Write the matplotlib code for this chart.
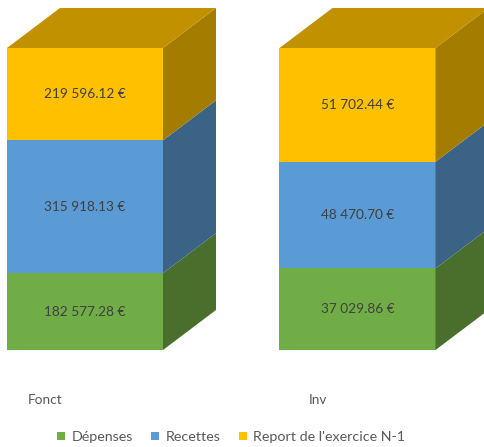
import numpy as np
import matplotlib.pyplot as plt
from matplotlib.patches import Polygon, Patch

plt.rcParams['font.family'] = ['Lato', 'DejaVu Sans']

categories = ['Fonct', 'Inv']
series = ['Dépenses', 'Recettes', "Report de l'exercice N-1"]
depenses = [182577.28, 37029.86]
recettes = [315918.13, 48470.70]
report = [219596.12, 51702.44]
labels = [['182 577.28 €', '37 029.86 €'],
          ['315 918.13 €', '48 470.70 €'],
          ['219 596.12 €', '51 702.44 €']]

front = ['#70AD47', '#5B9BD5', '#FFC000']
side = ['#4A6E2B', '#3A6386', '#A37C00']
top = ['#5A8A38', '#4A7DAB', '#C29100']

values = np.array([depenses, recettes, report])
pct = values / values.sum(axis=0) * 100

fig = plt.figure(figsize=(4.84, 4.47), dpi=100)
ax = fig.add_axes([0, 0, 1, 1])
ax.set_xlim(-0.3119, 1.4642)
ax.set_ylim(-32.12, 115.89)
ax.axis('off')

w = 0.5725          # bar width
dx, dy = 0.1945, 13.25  # depth offset

for i, cat in enumerate(categories):
    x0 = i - w / 2
    x1 = i + w / 2
    bottom = 0
    for s in range(len(series)):
        h = pct[s, i]
        y0, y1 = bottom, bottom + h
        ax.add_patch(Polygon([(x0, y0), (x1, y0), (x1, y1), (x0, y1)],
                             closed=True, fc=front[s], lw=0))
        ax.add_patch(Polygon([(x1, y0), (x1 + dx, y0 + dy), (x1 + dx, y1 + dy), (x1, y1)],
                             closed=True, fc=side[s], lw=0))
        if s == len(series) - 1:
            ax.add_patch(Polygon([(x0, y1), (x1, y1), (x1 + dx, y1 + dy), (x0 + dx, y1 + dy)],
                                 closed=True, fc=top[s], lw=0))
        ax.text(i, (y0 + y1) / 2, labels[s][i], ha='center', va='center',
                fontsize=9.8, color='#404040')
        bottom = y1
    ax.text(i - 0.147, -16.56, cat, ha='center', va='center',
            fontsize=9.8, color='#595959')

handles = [Patch(facecolor=c, edgecolor='none') for c in front]
fig.legend(handles, series, loc='center', bbox_to_anchor=(0.478, 0.022), ncol=3,
           frameon=False, fontsize=10.3, labelcolor='#595959',
           handlelength=0.55, handleheight=0.55, handletextpad=0.45, columnspacing=1.3)

fig.savefig('out.png', dpi=100)
